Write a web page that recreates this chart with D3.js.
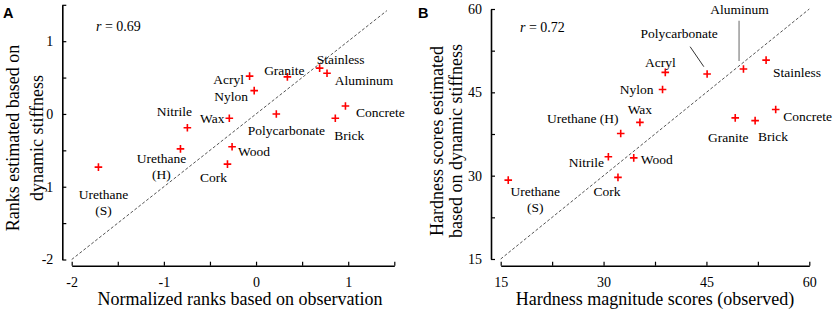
<!DOCTYPE html>
<html>
<head>
<meta charset="utf-8">
<script src="https://cdn.jsdelivr.net/npm/d3@7"></script>
<style>
  body { margin: 0; background: #fff; }
  text { font-family: "Liberation Serif", "Times New Roman", serif; fill: #000; }
  .panel-label { font-family: "Liberation Sans", Arial, sans-serif; font-weight: bold; }
</style>
</head>
<body>
<svg id="chart" width="835" height="313"></svg>
<script>
// Materials (same order in both panels)
const materials = ["Urethane (S)", "Urethane (H)", "Nitrile", "Wax", "Acryl", "Nylon", "Wood",
    "Cork", "Polycarbonate", "Granite", "Stainless", "Aluminum", "Concrete", "Brick"];

// Panel A: normalized ranks
const rankObserved  = [-1.71, -0.82, -0.745, -0.29, -0.07, -0.02, -0.26, -0.31, 0.22, 0.34, 0.69, 0.77, 0.97, 0.86];
const rankEstimated = [-0.73, -0.48, -0.19, -0.06, 0.52, 0.32, -0.45, -0.69, 0.0, 0.51, 0.63, 0.56, 0.11, -0.06];

// Panel B: hardness magnitude scores
const scoreObserved  = [16.1, 32.5, 30.7, 35.3, 39.0, 38.6, 34.4, 32.1, 45.1, 49.2, 53.7, 50.4, 55.1, 52.1];
const scoreEstimated = [29.2, 37.6, 33.4, 39.6, 48.6, 45.5, 33.2, 29.7, 48.3, 40.4, 50.8, 49.2, 41.9, 39.9];

// Tick values
const rankTicks = [-2, -1.5, -1, -0.5, 0, 0.5, 1, 1.5];
const rankTickLabels = [-2, -1, 0, 1];
const scoreTicks = [15, 22.5, 30, 37.5, 45, 52.5, 60];
const scoreTickLabels = [15, 30, 45, 60];

// Label placement (pixel offsets from each point), per panel
const labelOffsetsA = {
    "Urethane (S)": [5, 27, true], "Urethane (H)": [-19, 9, true], "Nitrile": [-13, -17],
    "Wax": [-17, 0], "Acryl": [-21, 3], "Nylon": [-23, 6], "Wood": [22, 5], "Cork": [-14, 13],
    "Polycarbonate": [10, 16], "Granite": [-3, -7], "Stainless": [21, -9], "Aluminum": [37, 7],
    "Concrete": [35, 6], "Brick": [14, 17]
};
const labelOffsetsB = {
    "Urethane (S)": [27, 11, true], "Urethane (H)": [-38, -15], "Nitrile": [-22, 5],
    "Wax": [0, -13], "Acryl": [-5, -10], "Nylon": [-26, 0], "Wood": [23, 1], "Cork": [-11, 14],
    "Polycarbonate": [-28, -41], "Granite": [-7, 19], "Stainless": [31, 12], "Aluminum": [-4, -60],
    "Concrete": [32, 7], "Brick": [18, 16]
};

const svg = d3.select("#chart");

function drawPanel(opt) {
    const g = svg.append("g");
    const x = d3.scaleLinear().domain(opt.xDomain).range(opt.xRange);
    const y = d3.scaleLinear().domain(opt.yDomain).range(opt.yRange);
    const fmt = d => opt.tickLabels.includes(d) ? String(d) : "";

    // x axis (offset below plot)
    const xAxis = g.append("g")
        .attr("transform", `translate(0, ${opt.xAxisY})`)
        .call(d3.axisBottom(x).tickValues(opt.ticks).tickFormat(fmt)
            .tickSizeInner(-4).tickSizeOuter(0).tickPadding(11));
    // y axis (offset left of plot)
    const yAxis = g.append("g")
        .attr("transform", `translate(${opt.yAxisX}, 0)`)
        .call(d3.axisLeft(y).tickValues(opt.ticks).tickFormat(fmt)
            .tickSizeInner(-4).tickSizeOuter(0).tickPadding(9));
    [xAxis, yAxis].forEach(a => {
        a.select(".domain").attr("stroke-width", 1.6);
        a.selectAll(".tick line").attr("stroke-width", 1.2);
        a.selectAll("text").attr("font-size", 14)
            .attr("font-family", "Liberation Serif, Times New Roman, serif");
    });

    // identity line
    g.append("line")
        .attr("x1", x(opt.diag[0])).attr("y1", y(opt.diag[0]))
        .attr("x2", x(opt.diag[1])).attr("y2", y(opt.diag[1]))
        .attr("stroke", "#555").attr("stroke-width", 1)
        .attr("stroke-dasharray", "3,2");

    // leader lines
    (opt.leaders || []).forEach(l => {
        const i = materials.indexOf(l.name);
        const px = x(opt.xs[i]), py = y(opt.ys[i]);
        g.append("line")
            .attr("x1", px + l.from[0]).attr("y1", py + l.from[1])
            .attr("x2", px + l.to[0]).attr("y2", py + l.to[1])
            .attr("stroke", l.color).attr("stroke-width", l.width);
    });

    // points
    const pts = materials.map((m, i) => ({ name: m, xv: opt.xs[i], yv: opt.ys[i] }));
    g.selectAll("path.pt")
        .data(pts)
        .join("path")
        .attr("class", "pt")
        .attr("transform", d => `translate(${x(d.xv)}, ${y(d.yv)})`)
        .attr("d", "M-3.8,0H3.8M0,-3.8V3.8")
        .attr("stroke", "#ff0000")
        .attr("stroke-width", 1.6);

    // point labels
    pts.forEach(d => {
        const off = opt.labels[d.name];
        const t = g.append("text")
            .attr("x", x(d.xv) + off[0])
            .attr("y", y(d.yv) + off[1])
            .attr("text-anchor", "middle")
            .attr("dy", "0.35em")
            .attr("font-size", 13.5);
        if (off[2]) {
            const parts = d.name.split(" ");
            t.append("tspan").text(parts[0]);
            t.append("tspan").attr("x", x(d.xv) + off[0]).attr("dy", 16.5).text(parts[1]);
        } else {
            t.text(d.name);
        }
    });

    // correlation
    g.append("text")
        .attr("x", opt.rPos[0]).attr("y", opt.rPos[1])
        .attr("font-size", 14)
        .html(`<tspan font-style="italic">r</tspan> = ${opt.r}`);

    // axis titles
    g.append("text")
        .attr("x", (opt.xRange[0] + opt.xRange[1]) / 2 + opt.xTitleShift)
        .attr("y", 305)
        .attr("text-anchor", "middle")
        .attr("font-size", 18)
        .text(opt.xTitle);
    opt.yTitle.forEach((line, k) => {
        g.append("text")
            .attr("transform", `translate(${opt.yTitleX[k]}, ${opt.yTitleY}) rotate(-90)`)
            .attr("text-anchor", "middle")
            .attr("dy", "0.35em")
            .attr("font-size", 18)
            .text(line);
    });

    // panel letter
    svg.append("text")
        .attr("class", "panel-label")
        .attr("x", opt.letterX).attr("y", 17.5)
        .attr("font-size", 14.5)
        .text(opt.letter);
}

drawPanel({
    letter: "A", letterX: 3,
    xs: rankObserved, ys: rankEstimated,
    xDomain: [-2, 1.5], xRange: [71.7, 394.3],
    yDomain: [-2, 1.5], yRange: [259.5, 4.8],
    xAxisY: 265.7, yAxisX: 62.3,
    ticks: rankTicks, tickLabels: rankTickLabels,
    diag: [-2, 1.42],
    labels: labelOffsetsA,
    r: "0.69", rPos: [96, 31],
    xTitle: "Normalized ranks based on observation", xTitleShift: 7,
    yTitle: ["Ranks estimated based on", "dynamic stiffness"], yTitleX: [13, 37], yTitleY: 138
});

drawPanel({
    letter: "B", letterX: 418,
    xs: scoreObserved, ys: scoreEstimated,
    xDomain: [15, 60], xRange: [500.7, 809.3],
    yDomain: [15, 60], yRange: [259, 9],
    xAxisY: 265.7, yAxisX: 491,
    ticks: scoreTicks, tickLabels: scoreTickLabels,
    diag: [15, 60],
    labels: labelOffsetsB,
    leaders: [
        { name: "Polycarbonate", from: [-17, -27.3], to: [-3.3, -7.3], color: "#333", width: 1 },
        { name: "Aluminum", from: [-4.4, -48.3], to: [-4.4, -8], color: "#999", width: 1.5 }
    ],
    r: "0.72", rPos: [520, 32],
    xTitle: "Hardness magnitude scores (observed)", xTitleShift: 0,
    yTitle: ["Hardness scores estimated", "based on dynamic stiffness"], yTitleX: [437, 456], yTitleY: 141
});
</script>
</body>
</html>
